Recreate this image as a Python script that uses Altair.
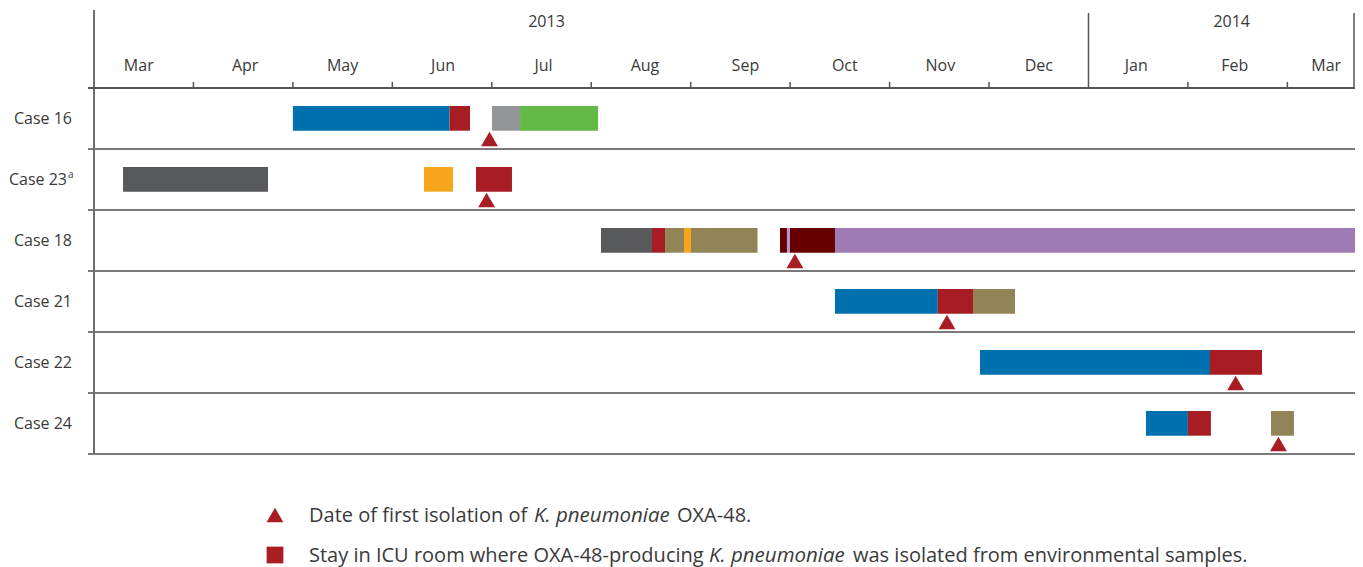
import altair as alt
import pandas as pd

# ---------------- data (x positions in months elapsed since 1 March 2013) -------------
cases = ["Case 16", "Case 23", "Case 18", "Case 21", "Case 22", "Case 24"]
case_labels = ["Case 16", "Case 23", "Case 18", "Case 21", "Case 22", "Case 24"]
case_sup = ["", "a", "", "", "", ""]

seg_case = ["Case 16", "Case 16", "Case 16", "Case 16",
            "Case 23", "Case 23", "Case 23",
            "Case 18", "Case 18", "Case 18", "Case 18", "Case 18", "Case 18", "Case 18", "Case 18", "Case 18",
            "Case 21", "Case 21", "Case 21",
            "Case 22", "Case 22",
            "Case 24", "Case 24", "Case 24"]
seg_start = [2.00, 3.576, 4.002, 4.284,
             0.292, 3.318, 3.841,
             5.098, 5.611, 5.742, 5.933, 6.003, 6.898, 6.968, 6.998, 7.451,
             7.451, 8.485, 8.839,
             8.909, 11.222,
             10.578, 11.000, 11.835]
seg_end = [3.576, 3.781, 4.284, 5.068,
           1.750, 3.610, 4.203,
           5.611, 5.742, 5.933, 6.003, 6.672, 6.968, 6.998, 7.451, 12.72,
           8.485, 8.839, 9.261,
           11.222, 11.745,
           11.000, 11.231, 12.066]
seg_kind = ["blue", "icu", "grey", "green",
            "darkgrey", "orange", "icu",
            "darkgrey", "icu", "khaki", "orange", "khaki", "maroon", "lilac", "maroon", "purple",
            "blue", "icu", "khaki",
            "blue", "icu",
            "blue", "icu", "khaki"]

kind_names = ["blue", "icu", "grey", "green", "darkgrey", "orange", "khaki", "maroon", "lilac", "purple"]
kind_colors = ["#0070AF", "#A71D23", "#949599", "#62BB46", "#58595B", "#F7A51D",
               "#938457", "#660000", "#B795CF", "#9F7AB4"]

iso_case = ["Case 16", "Case 23", "Case 18", "Case 21", "Case 22", "Case 24"]
iso_month = [3.977, 3.948, 7.048, 8.577, 11.480, 11.910]

month_labels = ["Mar", "Apr", "May", "Jun", "Jul", "Aug", "Sep", "Oct", "Nov", "Dec", "Jan", "Feb", "Mar"]
month_label_pos = [0.45, 1.52, 2.50, 3.51, 4.52, 5.54, 6.55, 7.55, 8.51, 9.50, 10.48, 11.47, 12.39]
month_ticks = [1, 2, 3, 4, 5, 6, 7, 8, 9, 11, 12]
year_labels = ["2013", "2014"]
year_label_pos = [4.55, 11.44]
year_dividers = [10, 12.67]

legend_line1 = ["Date of first isolation of", "K. pneumoniae", "OXA-48."]
legend_line2 = ["Stay in ICU room where OXA-48-producing", "K. pneumoniae",
                "was isolated from environmental samples."]

# ---------------- layout -------------
W, H = 1261, 444
X_MAX = 12.68
Y_TOP, Y_BOT = -1.2787, 6.0
FONT = "Open Sans"
TXT = "#3a3a3a"
LINE = "#7a7a7a"
RED = "#A71D23"

xs = alt.Scale(domain=[0, X_MAX], nice=False, zero=False)
ys = alt.Scale(domain=[Y_TOP, Y_BOT], nice=False, zero=False, reverse=True)
row_of = {c: i for i, c in enumerate(cases)}

bars = pd.DataFrame({"case": seg_case, "start": seg_start, "end": seg_end, "kind": seg_kind})
bars["y0"] = bars["case"].map(row_of) + 0.295
bars["y1"] = bars["case"].map(row_of) + 0.70

iso = pd.DataFrame({"case": iso_case, "m": iso_month})
iso["y"] = iso["case"].map(row_of) + 0.835

labels = pd.DataFrame({"case": cases, "label": case_labels, "sup": case_sup})
labels["y"] = labels["case"].map(row_of) + 0.5

X = lambda f: alt.X(f, scale=xs, axis=None)
Y = lambda f: alt.Y(f, scale=ys, axis=None)

bar_layer = alt.Chart(bars).mark_bar().encode(
    x=X("start:Q"), x2="end:Q",
    y=Y("y0:Q"), y2="y1:Q",
    color=alt.Color("kind:N", scale=alt.Scale(domain=kind_names, range=kind_colors), legend=None),
)

tri_layer = alt.Chart(iso).mark_point(shape="triangle-up", filled=True, size=285,
                                      color=RED, opacity=1).encode(
    x=X("m:Q"), y=Y("y:Q"),
)

hlines = pd.DataFrame({"u": [1, 2, 3, 4, 5, 6]})
hline_layer = alt.Chart(hlines).mark_rule(color=LINE, strokeWidth=1.8).encode(
    x=alt.value(-6), x2=alt.value(W + 5),
    y=Y("u:Q"),
)
top_axis = alt.Chart(pd.DataFrame({"u": [0]})).mark_rule(color="#555555", strokeWidth=2).encode(
    x=alt.value(-6), x2=alt.value(W),
    y=Y("u:Q"),
)
left_axis = alt.Chart(pd.DataFrame({"m": [0], "a": [Y_TOP], "b": [Y_BOT]})).mark_rule(
    color="#6e6e6e", strokeWidth=2).encode(
    x=X("m:Q"), y=Y("a:Q"), y2="b:Q",
)
tick_layer = alt.Chart(pd.DataFrame({"m": month_ticks, "a": -0.1, "b": 0.0})).mark_rule(
    color="#555555", strokeWidth=1.5).encode(
    x=X("m:Q"), y=Y("a:Q"), y2="b:Q",
)
div_layer = alt.Chart(pd.DataFrame({"m": year_dividers, "a": -1.23, "b": 0.0})).mark_rule(
    color="#555555", strokeWidth=1.5).encode(
    x=X("m:Q"), y=Y("a:Q"), y2="b:Q",
)

month_layer = alt.Chart(pd.DataFrame({"m": month_label_pos, "t": month_labels, "u": -0.36})).mark_text(
    font=FONT, fontSize=16, color=TXT, baseline="middle", align="center").encode(
    x=X("m:Q"), y=Y("u:Q"), text="t:N",
)
year_layer = alt.Chart(pd.DataFrame({"m": year_label_pos, "t": year_labels, "u": -1.074})).mark_text(
    font=FONT, fontSize=16, color=TXT, baseline="middle", align="center").encode(
    x=X("m:Q"), y=Y("u:Q"), text="t:N",
)

label_plain = alt.Chart(labels).transform_filter("datum.sup == ''").mark_text(
    font=FONT, fontSize=16, color=TXT, baseline="middle", align="right").encode(
    x=alt.value(-22), y=Y("y:Q"), text="label:N",
)
label_sup_main = alt.Chart(labels).transform_filter("datum.sup != ''").mark_text(
    font=FONT, fontSize=16, color=TXT, baseline="middle", align="right").encode(
    x=alt.value(-27), y=Y("y:Q"), text="label:N",
)
label_sup = alt.Chart(labels).transform_filter("datum.sup != ''").mark_text(
    font=FONT, fontSize=10, color=TXT, baseline="middle", align="left", dy=-5).encode(
    x=alt.value(-26), y=Y("y:Q"), text="sup:N",
)

# legend (drawn below the plot area, positions in pixels)
leg_txt = pd.DataFrame({
    "t": legend_line1 + legend_line2,
    "px": [215, 440, 583, 215, 615, 759],
    "py": [506, 506, 506, 546, 546, 546],
    "it": ["normal", "italic", "normal", "normal", "italic", "normal"],
})
leg_plain = alt.Chart(leg_txt).transform_filter("datum.it == 'normal'").mark_text(
    font=FONT, fontSize=20, color=TXT, baseline="middle", align="left").encode(
    x=alt.X("px:Q", scale=None), y=alt.Y("py:Q", scale=None), text="t:N")
leg_ital = alt.Chart(leg_txt).transform_filter("datum.it == 'italic'").mark_text(
    font=FONT, fontSize=20.5, color=TXT, baseline="middle", align="left", fontStyle="italic").encode(
    x=alt.X("px:Q", scale=None), y=alt.Y("py:Q", scale=None), text="t:N")

leg_sym = pd.DataFrame({"px": [181, 181], "py": [505, 545], "s": ["triangle-up", "square"]})
leg_symbols = alt.Chart(leg_sym).mark_point(filled=True, size=280, color=RED, opacity=1).encode(
    x=alt.X("px:Q", scale=None), y=alt.Y("py:Q", scale=None),
    shape=alt.Shape("s:N", scale=None),
)

chart = alt.layer(
    hline_layer, left_axis, top_axis, tick_layer, div_layer,
    bar_layer, tri_layer,
    month_layer, year_layer, label_plain, label_sup_main, label_sup,
    leg_symbols, leg_plain, leg_ital,
).resolve_scale(x="independent", y="independent").properties(
    width=W, height=H,
    padding={"left": 86, "top": 2, "right": 0, "bottom": 113},
    autosize=alt.AutoSizeParams(type="none"),
    background="white",
).configure_view(stroke=None)

chart.save("out.html", embed_options={"renderer": "svg", "actions": False})
